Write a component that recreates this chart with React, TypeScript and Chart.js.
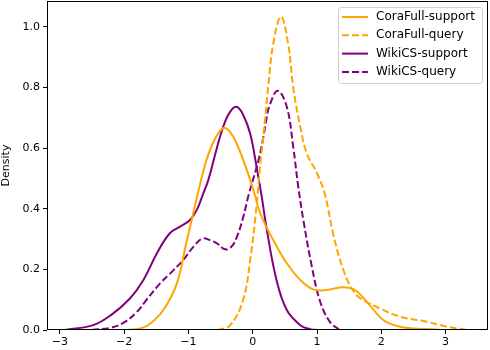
import React, { useEffect, useRef } from "react";
import { Chart, registerables } from "chart.js";

Chart.register(...registerables);

// KDE curves (x, density)
const coraSupportX = [-1.95, -1.75, -1.6, -1.39, -1.18, -1.03, -0.92, -0.82, -0.72, -0.6, -0.46, -0.36, -0.25, -0.09, 0.04, 0.1, 0.2, 0.32, 0.53, 0.74, 0.94, 1.15, 1.41, 1.59, 1.82, 2.03, 2.29, 2.7, 3.0];
const coraSupportY = [0, 0.005, 0.02, 0.066, 0.154, 0.29, 0.39, 0.48, 0.56, 0.625, 0.666, 0.655, 0.615, 0.527, 0.44, 0.395, 0.345, 0.297, 0.22, 0.165, 0.134, 0.132, 0.141, 0.132, 0.082, 0.033, 0.011, 0.003, 0];

const coraQueryX = [-0.55, -0.35, -0.15, -0.04, 0.06, 0.11, 0.19, 0.24, 0.32, 0.44, 0.55, 0.63, 0.74, 0.84, 1.0, 1.12, 1.25, 1.41, 1.59, 1.77, 1.98, 2.29, 2.71, 3.02, 3.33];
const coraQueryY = [0, 0.016, 0.099, 0.23, 0.41, 0.53, 0.69, 0.8, 0.945, 1.033, 0.945, 0.8, 0.67, 0.583, 0.517, 0.45, 0.319, 0.198, 0.121, 0.093, 0.071, 0.044, 0.027, 0.011, 0];

const wikiSupportX = [-2.92, -2.48, -2.2, -1.91, -1.7, -1.49, -1.29, -1.13, -0.975, -0.87, -0.77, -0.69, -0.57, -0.46, -0.35, -0.25, -0.15, -0.04, 0.06, 0.14, 0.22, 0.37, 0.53, 0.74, 0.89, 1.0];
const wikiSupportY = [0, 0.016, 0.05, 0.104, 0.165, 0.253, 0.319, 0.341, 0.363, 0.396, 0.45, 0.495, 0.59, 0.67, 0.72, 0.736, 0.71, 0.648, 0.538, 0.44, 0.33, 0.165, 0.066, 0.016, 0.003, 0];

const wikiQueryX = [-2.5, -2.2, -2.0, -1.8, -1.65, -1.44, -1.29, -1.08, -0.92, -0.78, -0.66, -0.55, -0.43, -0.33, -0.25, -0.15, -0.07, 0.09, 0.16, 0.22, 0.27, 0.39, 0.53, 0.63, 0.71, 0.79, 0.92, 1.05, 1.2, 1.35];
const wikiQueryY = [0, 0.008, 0.025, 0.06, 0.1, 0.154, 0.185, 0.231, 0.275, 0.302, 0.296, 0.285, 0.266, 0.275, 0.305, 0.37, 0.44, 0.56, 0.63, 0.703, 0.745, 0.789, 0.736, 0.604, 0.47, 0.36, 0.209, 0.093, 0.027, 0];

const seriesNames = ["CoraFull-support", "CoraFull-query", "WikiCS-support", "WikiCS-query"];
const xTicks = [-3, -2, -1, 0, 1, 2, 3];
const yTicks = [0, 0.2, 0.4, 0.6, 0.8, 1.0];

const ORANGE = "#FFA500";
const PURPLE = "#800080";
const FONT = "'DejaVu Sans', sans-serif";

function pts(xs: number[], ys: number[]) {
  return xs.map((x, i) => ({ x, y: ys[i] }));
}

export default function App() {
  const ref = useRef<HTMLCanvasElement>(null);
  useEffect(() => {
    document.body.style.margin = "0";
    const ctx = ref.current!;
    const styles = [
      { color: ORANGE, dash: [] as number[] },
      { color: ORANGE, dash: [7, 3] },
      { color: PURPLE, dash: [] as number[] },
      { color: PURPLE, dash: [7, 3] },
    ];
    const data = [
      pts(coraSupportX, coraSupportY),
      pts(coraQueryX, coraQueryY),
      pts(wikiSupportX, wikiSupportY),
      pts(wikiQueryX, wikiQueryY),
    ];
    const frame = {
      id: "frame",
      afterDraw(chart: any) {
        const c = chart.ctx;
        const a = chart.chartArea;
        c.save();
        c.strokeStyle = "#000";
        c.lineWidth = 1;
        c.strokeRect(Math.round(a.left) + 0.5, Math.round(a.top) + 0.5, Math.round(a.right - a.left) - 1, Math.round(a.bottom - a.top) - 1);
        // legend
        const bx = a.right - 150;
        const by = a.top + 6;
        const bw = 144;
        const bh = 76;
        c.fillStyle = "rgba(255,255,255,0.8)";
        c.strokeStyle = "#d0d0d0";
        c.lineWidth = 1;
        c.beginPath();
        (c as any).roundRect(bx + 0.5, by + 0.5, bw, bh, 3);
        c.fill();
        c.stroke();
        c.font = `12px ${FONT}`;
        c.textBaseline = "middle";
        c.textAlign = "left";
        seriesNames.forEach((name, i) => {
          const yy = by + 10 + i * 18.3;
          c.strokeStyle = styles[i].color;
          c.lineWidth = 2;
          c.setLineDash(styles[i].dash);
          c.beginPath();
          c.moveTo(bx + 4, yy);
          c.lineTo(bx + 30, yy);
          c.stroke();
          c.setLineDash([]);
          c.fillStyle = "#000";
          c.fillText(name, bx + 38, yy);
        });
        c.restore();
      },
    };
    const chart = new Chart(ctx, {
      type: "scatter",
      data: {
        datasets: data.map((d, i) => ({
          label: seriesNames[i],
          data: d,
          showLine: true,
          borderColor: styles[i].color,
          backgroundColor: styles[i].color,
          borderDash: styles[i].dash,
          borderWidth: 2,
          pointRadius: 0,
          tension: 0.4,
          fill: false,
        })),
      },
      options: {
        animation: false,
        responsive: false,
        maintainAspectRatio: false,
        layout: { padding: { top: 1, right: 2, left: 0, bottom: 0 } },
        plugins: { legend: { display: false }, tooltip: { enabled: false } },
        scales: {
          x: {
            type: "linear",
            min: -3.2,
            max: 3.66,
            afterBuildTicks: (s: any) => {
              s.ticks = xTicks.map((v) => ({ value: v }));
            },
            afterFit: (s: any) => {
              s.height = 20;
              s.paddingLeft = 0;
              s.paddingRight = 0;
            },
            grid: { drawOnChartArea: false, color: "#000", tickLength: 4, tickColor: "#000" },
            border: { display: false },
            ticks: {
              color: "#000",
              font: { family: FONT, size: 11 },
              padding: 2,
              maxRotation: 0,
              callback: (v: any) => String(v).replace("-", "\u2212"),
            },
          },
          y: {
            type: "linear",
            min: 0,
            max: 1.085,
            afterBuildTicks: (s: any) => {
              s.ticks = yTicks.map((v) => ({ value: v }));
            },
            afterFit: (s: any) => {
              s.width = 47;
              s.paddingTop = 0;
              s.paddingBottom = 0;
            },
            grid: { drawOnChartArea: false, color: "#000", tickLength: 4, tickColor: "#000" },
            border: { display: false },
            title: { display: true, text: "Density", color: "#000", font: { family: FONT, size: 11 }, padding: 0 },
            ticks: {
              color: "#000",
              font: { family: FONT, size: 11 },
              padding: 3,
              callback: (v: any) => Number(v).toFixed(1),
            },
          },
        },
      },
      plugins: [frame],
    });
    return () => chart.destroy();
  }, []);
  return (
    <div style={{ position: "absolute", left: 0, top: 0, width: 490, height: 350 }}>
      <canvas ref={ref} width={490} height={350} style={{ width: 490, height: 350, display: "block" }} />
    </div>
  );
}
